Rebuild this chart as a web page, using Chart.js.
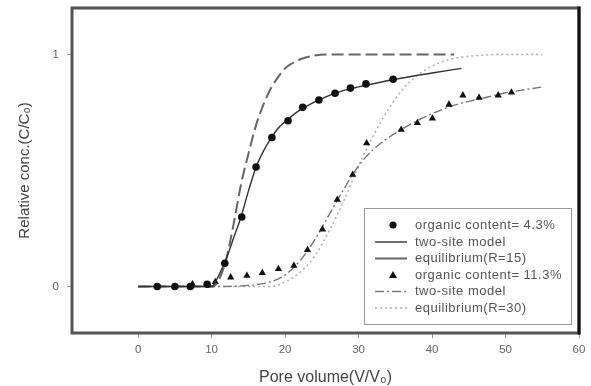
<!DOCTYPE html>
<html>
<head>
<meta charset="utf-8">
<script src="https://cdn.jsdelivr.net/npm/chart.js@4/dist/chart.umd.min.js"></script>
<style>
html,body{margin:0;padding:0;background:#fff;}
#wrap{width:591px;height:386px;}
</style>
</head>
<body>
<div id="wrap"><canvas id="c" width="591" height="386"></canvas></div>
<script>
// ---- data ----
const xTicks = [0, 10, 20, 30, 40, 50, 60];
const yTicks = [0, 1];

const oc43X = [2.6, 5.0, 7.1, 9.4, 11.8, 14.1, 16.05, 18.2, 20.4, 22.4, 24.6, 26.8, 28.9, 31.0, 34.7];
const oc43Y = [0, 0, 0, 0.01, 0.1, 0.3, 0.515, 0.642, 0.714, 0.772, 0.804, 0.833, 0.855, 0.873, 0.893];

const ts43X = [0, 10, 10.5, 11, 12, 13, 14, 15, 16, 17, 18, 19, 20, 22, 25, 28, 30, 35, 40, 44];
const ts43Y = [0, 0, 0.02, 0.05, 0.12, 0.21, 0.3, 0.41, 0.51, 0.58, 0.635, 0.68, 0.71, 0.76, 0.81, 0.845, 0.86, 0.893, 0.92, 0.94];

const eq15X = [0, 10, 11, 12, 13, 14, 15, 16, 17, 18, 19, 20, 21, 22, 24, 26, 43];
const eq15Y = [0, 0, 0.03, 0.12, 0.27, 0.44, 0.57, 0.69, 0.78, 0.85, 0.9, 0.94, 0.962, 0.978, 0.995, 1, 1];

const oc113X = [7.4, 10.5, 12.6, 14.8, 16.9, 19.1, 21.2, 23.05, 25.1, 27.1, 29.2, 31.1, 35.8, 38.0, 40.05, 42.3, 44.2, 46.4, 49.0, 50.8];
const oc113Y = [0.01, 0.02, 0.04, 0.047, 0.059, 0.076, 0.09, 0.158, 0.246, 0.374, 0.482, 0.618, 0.676, 0.705, 0.724, 0.784, 0.824, 0.814, 0.824, 0.836];

const ts113X = [0, 10, 15, 18, 20, 22, 24, 26, 28, 30, 32, 34, 36, 38, 40, 42, 44, 46, 48, 50, 52, 55];
const ts113Y = [0, 0, 0.005, 0.02, 0.05, 0.11, 0.2, 0.31, 0.42, 0.52, 0.59, 0.64, 0.68, 0.715, 0.745, 0.77, 0.79, 0.805, 0.82, 0.835, 0.845, 0.86];

const eq30X = [0, 18, 20, 22, 24, 26, 28, 30, 32, 34, 36, 38, 40, 42, 44, 47, 50, 55];
const eq30Y = [0, 0, 0.02, 0.06, 0.13, 0.24, 0.37, 0.52, 0.65, 0.76, 0.85, 0.91, 0.95, 0.975, 0.988, 0.997, 1, 1];

const labels = ["organic content= 4.3%", "two-site model", "equilibrium(R=15)",
                "organic content= 11.3%", "two-site model", "equilibrium(R=30)"];

function pts(xs, ys){ return xs.map((v,i)=>({x:v, y:ys[i]})); }

const FONT = '"Liberation Sans", Arial, sans-serif';

const datasets = [
  {label: labels[0], data: pts(oc43X, oc43Y), showLine:false, pointStyle:'circle', pointRadius:3.8,
   backgroundColor:'#111', borderColor:'#111', borderWidth:0, kind:'point'},
  {label: labels[1], data: pts(ts43X, ts43Y), showLine:true, pointRadius:0, borderColor:'#333', borderWidth:1.4,
   cubicInterpolationMode:'monotone', kind:'line'},
  {label: labels[2], data: pts(eq15X, eq15Y), showLine:true, pointRadius:0, borderColor:'#666', borderWidth:2,
   borderDash:[12,5], cubicInterpolationMode:'monotone', kind:'line'},
  {label: labels[3], data: pts(oc113X, oc113Y), showLine:false, pointStyle:'triangle', pointRadius:4.2,
   backgroundColor:'#111', borderColor:'#111', borderWidth:0, kind:'point'},
  {label: labels[4], data: pts(ts113X, ts113Y), showLine:true, pointRadius:0, borderColor:'#777', borderWidth:1.4,
   borderDash:[9,3,2,3], cubicInterpolationMode:'monotone', kind:'line'},
  {label: labels[5], data: pts(eq30X, eq30Y), showLine:true, pointRadius:0, borderColor:'#aaa', borderWidth:1.4,
   borderDash:[2,3], cubicInterpolationMode:'monotone', kind:'line'}
];

const framePlugin = {
  id:'frame',
  afterDraw(chart){
    const {ctx, chartArea:a} = chart;
    ctx.save();
    ctx.strokeStyle = '#555';
    ctx.lineWidth = 3;
    ctx.strokeRect(a.left, a.top, a.right - a.left, a.bottom - a.top);
    ctx.strokeStyle = '#111';
    ctx.beginPath(); ctx.moveTo(a.right, a.top - 1.5); ctx.lineTo(a.right, a.bottom + 1.5); ctx.stroke();
    // legend
    const lx = 364, ly = 208, lw = 207, lh = 116;
    ctx.lineWidth = 1;
    ctx.strokeStyle = '#999';
    ctx.strokeRect(lx + 0.5, ly + 0.5, lw, lh);
    ctx.font = '13px ' + FONT;
    if ('letterSpacing' in ctx) ctx.letterSpacing = '0.5px';
    ctx.textBaseline = 'middle';
    ctx.textAlign = 'left';
    const rows = [225, 242, 258.5, 275, 291.5, 308];
    chart.data.datasets.forEach((ds, i) => {
      const y = rows[i];
      if (ds.kind === 'point') {
        ctx.fillStyle = ds.backgroundColor;
        ctx.beginPath();
        if (ds.pointStyle === 'circle') {
          ctx.arc(393, y, 3.6, 0, Math.PI*2);
        } else {
          ctx.moveTo(393, y - 4); ctx.lineTo(397, y + 3); ctx.lineTo(389, y + 3); ctx.closePath();
        }
        ctx.fill();
      } else {
        ctx.strokeStyle = ds.borderColor;
        ctx.lineWidth = ds.borderWidth;
        ctx.setLineDash(ds.borderDash ? (i===2 ? [] : ds.borderDash) : []);
        ctx.beginPath(); ctx.moveTo(375, y); ctx.lineTo(407, y); ctx.stroke();
        ctx.setLineDash([]);
      }
      ctx.fillStyle = '#555';
      ctx.fillText(ds.label, 415, y);
    });
    ctx.restore();
  }
};

new Chart(document.getElementById('c'), {
  type:'scatter',
  data:{datasets},
  options:{
    responsive:false,
    animation:false,
    events:[],
    layout:{padding:{left:0, top:8, right:12, bottom:0}},
    plugins:{legend:{display:false}, tooltip:{enabled:false}},
    scales:{
      x:{
        type:'linear', min:-9, max:60,
        afterBuildTicks(s){ s.ticks = xTicks.map(v=>({value:v})); },
        afterFit(s){ s.height = 53; s.paddingLeft = 0; s.paddingRight = 0; },
        border:{display:false},
        grid:{display:true, drawOnChartArea:false, drawTicks:true, tickLength:5, color:'#999'},
        ticks:{color:'#666', font:{size:11.5, family:FONT}, padding:5, maxRotation:0},
        title:{display:true, text:'Pore volume(V/V\u2080)', color:'#444',
               font:{size:16, family:FONT, lineHeight:1}, padding:{top:0, bottom:0}}
      },
      y:{
        type:'linear', min:-0.2, max:1.2,
        afterBuildTicks(s){ s.ticks = yTicks.map(v=>({value:v})); },
        afterFit(s){ s.width = 72; s.paddingTop = 0; s.paddingBottom = 0; },
        border:{display:false},
        grid:{display:true, drawOnChartArea:false, drawTicks:true, tickLength:5, color:'#999'},
        ticks:{color:'#666', font:{size:11.5, family:FONT}, padding:8},
        title:{display:true, text:'Relative conc.(C/C\u2080)', color:'#444',
               font:{size:15, family:FONT, lineHeight:1}, padding:{top:17, bottom:0}}
      }
    }
  },
  plugins:[framePlugin]
});
</script>
</body>
</html>
